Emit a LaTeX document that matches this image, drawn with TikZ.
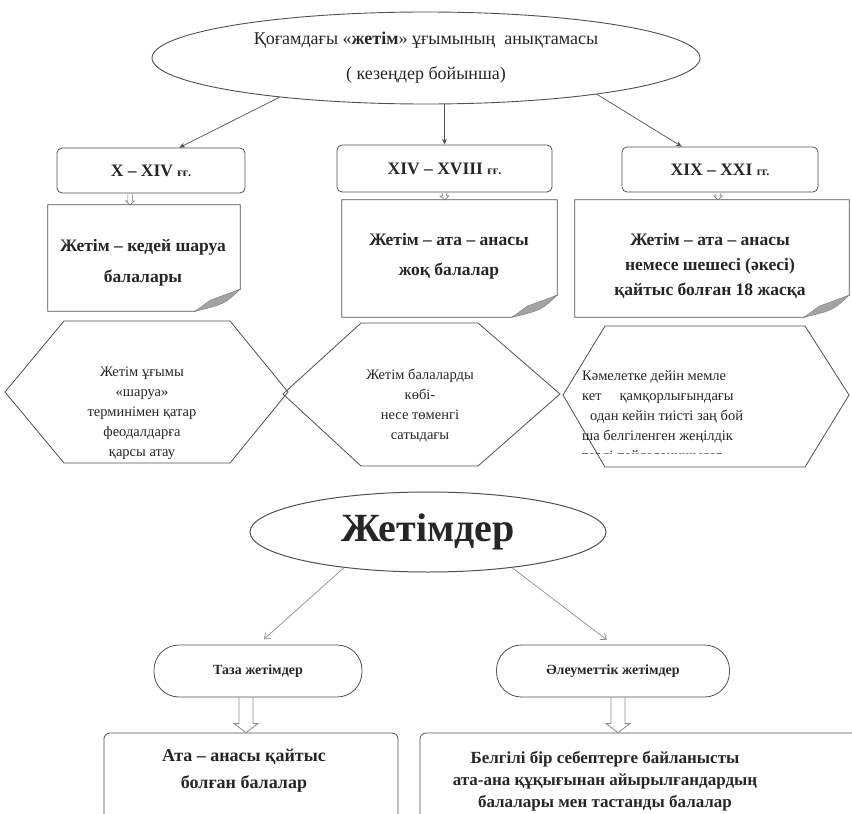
\documentclass[tikz,border=0pt]{standalone}
\usepackage{fontspec}
\setmainfont{Liberation Serif}
\usetikzlibrary{shapes.geometric,arrows.meta,calc}
\definecolor{txt}{HTML}{262626}
\definecolor{edge}{HTML}{505050}
\definecolor{lightedge}{HTML}{8E8E8E}
\definecolor{foldc}{HTML}{A3A3A3}
\newcommand{\fs}[2]{\fontsize{#1}{#2}\selectfont}
\newcommand{\holarr}[6]{%
  \draw[#1] ($(#2)+(-#4,0)$) -- ($(#3)+(-#4,-#6)$) -- ($(#3)+(-#5,-#6)$) -- (#3)
    -- ($(#3)+(#5,-#6)$) -- ($(#3)+(#4,-#6)$) -- ($(#2)+(#4,0)$);}
\newcommand{\notebox}[1]{%
  \draw[noteline] (#1.north west) -- (#1.north east) -- ($(#1.south east)+(0,-22)$)
    -- ($(#1.south east)+(-45,0)$) -- (#1.south west) -- cycle;
  \filldraw[fold] ($(#1.south east)+(0,-22)$) .. controls ($(#1.south east)+(-16,-7)$) ..
    ($(#1.south east)+(-45,0)$) -- ($(#1.south east)+(-30,-11)$) -- cycle;}
\begin{document}
\begin{tikzpicture}[x=1pt,y=-1pt,
  every node/.style={text=txt, inner sep=0pt},
  box/.style={draw=edge, line width=0.8pt, rounded corners=5pt},
  notenode/.style={draw=none, align=center},
  noteline/.style={draw=edge, line width=0.8pt},
  fold/.style={fill=foldc, draw=edge!70, line width=0.5pt},
  hexline/.style={draw=edge, line width=0.8pt},
  hextext/.style={font=\fs{14.5}{20}},
  toparr/.style={draw=edge, line width=0.7pt, -{Stealth[length=6pt,width=5pt]}},
  lowarr/.style={draw=lightedge, line width=0.7pt, -{Straight Barb[length=5pt,width=8pt]}, shorten >=8pt},
  smallhol/.style={draw=edge!80, line width=0.6pt},
  bighol/.style={draw=lightedge, line width=0.8pt},
  pill/.style={draw=edge, line width=0.8pt, rounded corners=25pt, font=\fs{14}{16}\bfseries},
  bigbox/.style={draw=edge, line width=0.8pt, rounded corners=6pt}
]
\useasboundingbox (0,0) rectangle (852,814);
\fill[white] (0,0) rectangle (852,814);

% top ellipse
\node[ellipse, draw=edge, line width=0.9pt, minimum width=548pt, minimum height=92pt,
      align=center, font=\fs{18}{35}] (top) at (426,58)
  {Қоғамдағы «\textbf{жетім}» ұғымының\ \ анықтамасы\\( кезеңдер бойынша)};

% period boxes
\node[box, minimum width=188pt, minimum height=45pt, font=\fs{17.5}{20}\bfseries] (A) at (151,170.5)
  {X – XIV {\fs{12}{14}ғғ.}};
\node[box, minimum width=215pt, minimum height=47pt, font=\fs{17.5}{20}\bfseries] (B) at (444.5,168.5)
  {XIV – XVIII {\fs{12}{14}ғғ.}};
\node[box, minimum width=196pt, minimum height=45pt, font=\fs{17.5}{20}\bfseries] (C) at (720,169.5)
  {XIX – XXI {\fs{12}{14}гг.}};

\draw[toparr] (top.195) -- (A.39);
\draw[toparr] (top.south -| B.north) -- (B.north);
\draw[toparr] (top.348) -- (C.149);

% note boxes
\node[notenode, minimum width=192pt, minimum height=106pt] (D) at (144,258) {};
\node[notenode, minimum width=215pt, minimum height=117pt] (E) at (449.5,258.5) {};
\node[notenode, minimum width=274pt, minimum height=117pt] (F) at (712,258.5) {};
\notebox{D}
\notebox{E}
\notebox{F}
\node[align=center, font=\fs{17.5}{31}\bfseries] (DT) at (143,263) {Жетім – кедей шаруа\\балалары};
\node[align=center, font=\fs{17.5}{30}\bfseries] (ET) at (449,256) {Жетім – ата – анасы\\жоқ балалар};
\node[align=center, font=\fs{17.5}{25}\bfseries] (FT) at (710,266)
  {Жетім – ата – анасы\\немесе шешесі (әкесі)\\қайтыс болған 18 жасқа};

% small hollow arrows
\coordinate (a1s) at ($(A.south)+(-21,1)$);
\coordinate (a1e) at (a1s |- D.north);
\coordinate (a2s) at ($(B.south)+(0,1)$);
\coordinate (a2e) at (a2s |- E.north);
\coordinate (a3s) at ($(C.south)+(-2,1)$);
\coordinate (a3e) at (a3s |- F.north);
\holarr{smallhol}{a1s}{a1e}{2.2}{4.5}{4}
\holarr{smallhol}{a2s}{a2e}{2.2}{4.5}{4}
\holarr{smallhol}{a3s}{a3e}{2.2}{4.5}{4}

% hexagons
\draw[hexline] (5,392) -- (64,321) -- (230,321) -- (288,392) -- (230,463) -- (64,463) -- cycle;
\draw[hexline] (283,394) -- (361,323) -- (478,323) -- (560,394) -- (478,466) -- (361,466) -- cycle;
\draw[hexline] (563,395) -- (605,326) -- (805,326) -- (849,395) -- (805,467) -- (605,467) -- cycle;

\node[hextext, align=center] (H1) at (142,413)
  {Жетім ұғымы\\«шаруа»\\терминімен қатар\\феодалдарға\\қарсы атау};
\node[hextext, align=center] (H2) at (420,406)
  {Жетім балаларды\\көбі-\\несе төменгі\\сатыдағы};
\begin{scope}
  \clip (565,330) rectangle (852,453);
  \node[hextext, align=left, anchor=west] (H3) at (582,417)
    {Кәмелетке дейін мемле\\кет\hspace{18pt}қамқорлығындағы\\\hspace{8pt}одан кейін тиісті заң бой\\ша белгіленген жеңілдік\\терді пайдаланушылар};
\end{scope}

% lower part
\node[ellipse, draw=edge, line width=1pt, minimum width=356pt, minimum height=80pt,
      font=\fs{40}{44}\bfseries] (J) at (428,532) {Жетімдер};

\node[pill, minimum width=208pt, minimum height=52pt] (P1) at (258,671) {Таза жетімдер};
\node[pill, minimum width=233pt, minimum height=52pt] (P2) at (613,671) {Әлеуметтік жетімдер};

\draw[lowarr] (J.203) -- (P1.north);
\draw[lowarr] (J.337) -- (P2.north);

\node[bigbox, minimum width=294pt, minimum height=110pt] (L) at (251,788) {};
\node[bigbox, minimum width=450pt, minimum height=110pt] (R) at (645,788) {};

\node[align=center, font=\fs{18}{27}\bfseries] (LT) at (244,771)
  {Ата – анасы қайтыс\\болған балалар};
\node[align=center, font=\fs{17}{22}\bfseries] (RT) at (605,781)
  {Белгілі бір себептерге байланысты\\ата-ана құқығынан айырылғандардың\\балалары мен тастанды балалар};

\coordinate (b1s) at ($(P1.south)+(-12,0)$);
\coordinate (b1e) at (b1s |- L.north);
\coordinate (b2s) at ($(P2.south)+(5,0)$);
\coordinate (b2e) at (b2s |- R.north);
\holarr{bighol}{b1s}{b1e}{7}{12}{9}
\holarr{bighol}{b2s}{b2e}{7}{12}{9}
\end{tikzpicture}
\end{document}
